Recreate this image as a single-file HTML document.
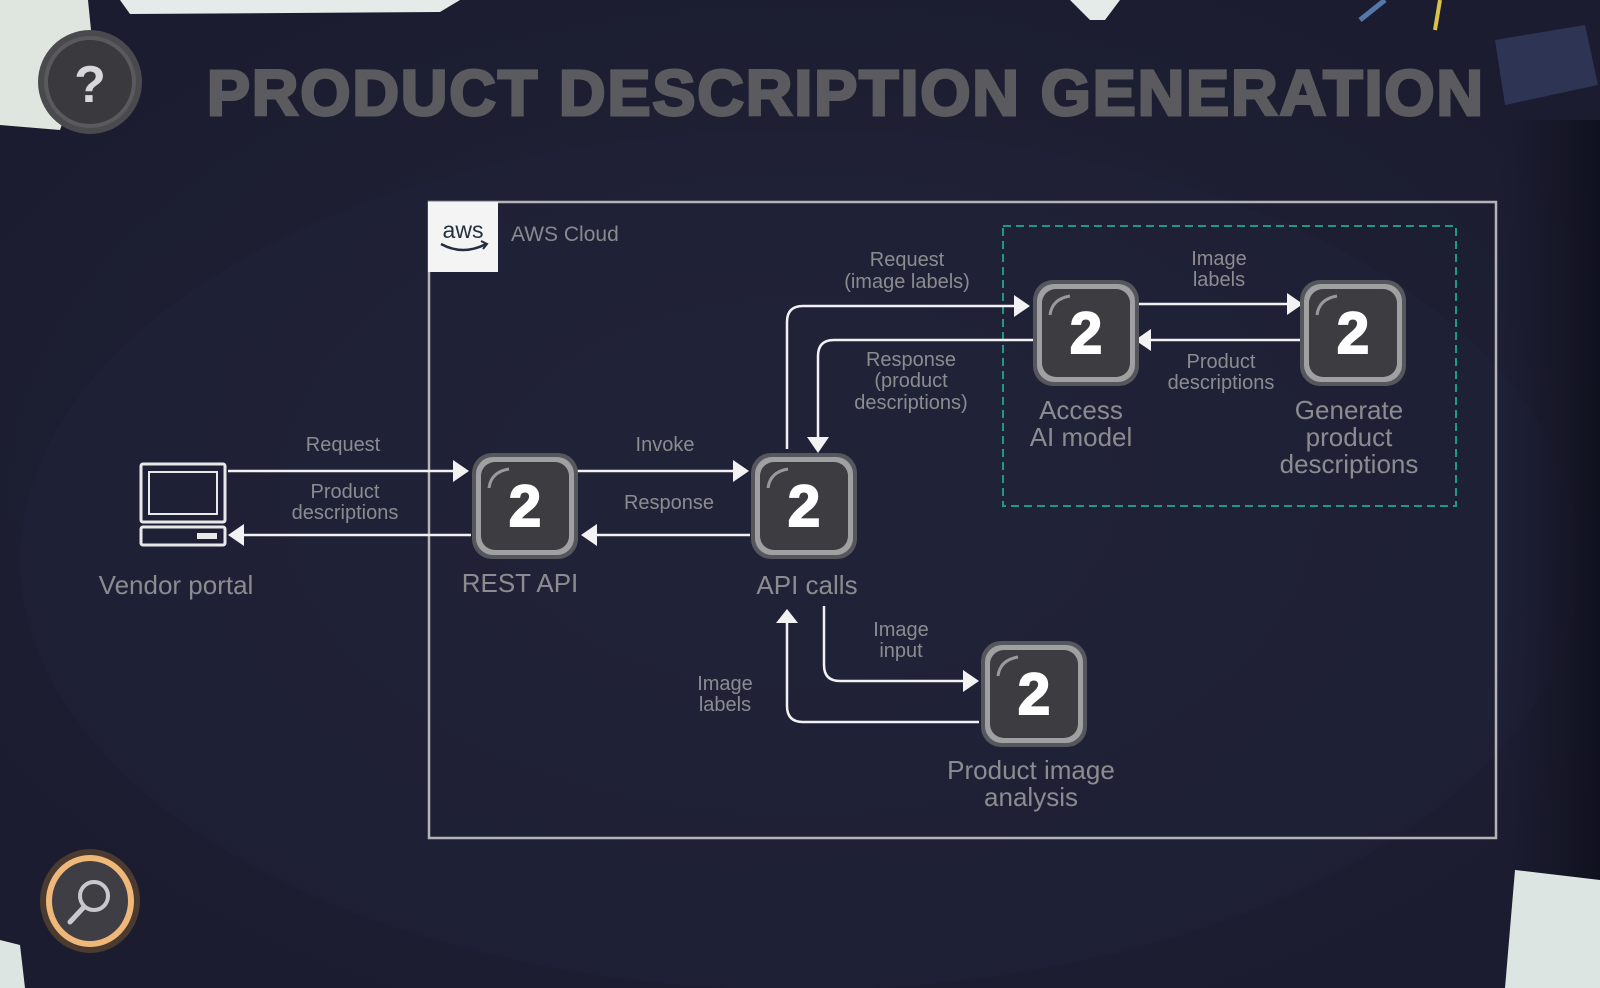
<!DOCTYPE html>
<html><head><meta charset="utf-8"><style>
html,body{margin:0;padding:0;background:#1d1f33;overflow:hidden}
svg{display:block}
text{font-family:"Liberation Sans",sans-serif}
</style></head><body>
<svg width="1600" height="988" viewBox="0 0 1600 988" xmlns="http://www.w3.org/2000/svg">
<defs>
<radialGradient id="bg" cx="0.5" cy="0.5" r="0.6">
<stop offset="0" stop-color="#222438"/><stop offset="1" stop-color="#1b1c30"/>
</radialGradient>
<linearGradient id="rd" x1="0" x2="1" y1="0" y2="0">
<stop offset="0" stop-color="#151626" stop-opacity="0"/><stop offset="1" stop-color="#10111e" stop-opacity="1"/>
</linearGradient>
<g id="node">
<rect x="-53" y="-53" width="106" height="106" rx="20" fill="#55575c"/>
<rect x="-49" y="-49" width="98" height="98" rx="17" fill="#a0a0a3"/>
<rect x="-44" y="-44" width="88" height="88" rx="14" fill="#3d3d41"/>
<path d="M-36,-18 Q-34,-34 -16,-37" stroke="#9a9a9e" stroke-width="3" fill="none"/>
<text x="0" y="20" text-anchor="middle" font-size="58" font-weight="bold" fill="#fff" stroke="#fff" stroke-width="2">2</text>
</g>
</defs>
<rect width="1600" height="988" fill="url(#bg)"/>
<ellipse cx="800" cy="560" rx="780" ry="430" fill="#20223a" opacity="0.5"/>
<rect x="1500" y="120" width="100" height="760" fill="url(#rd)"/>
<!-- corner papers -->
<path d="M0,0 L88,0 L92,40 L60,130 L0,125 Z" fill="#dfe6df"/>
<path d="M120,0 L460,0 L440,12 L130,14 Z" fill="#e4ebe8"/>
<path d="M1070,0 L1120,0 L1105,20 L1090,20 Z" fill="#e4ebe8"/>
<path d="M1360,20 L1385,0" stroke="#5577aa" stroke-width="5"/>
<path d="M1435,30 L1440,0" stroke="#d8c24a" stroke-width="4"/>
<path d="M1495,40 L1585,25 L1598,85 L1505,105 Z" fill="#2e3454"/>
<path d="M1515,870 L1600,880 L1600,988 L1505,988 Z" fill="#dde5e2"/>
<path d="M0,940 L20,945 L25,988 L0,988 Z" fill="#dde5e2"/>
<!-- help button -->
<circle cx="90" cy="82" r="52" fill="#4a4a4e"/>
<circle cx="90" cy="82" r="44" fill="#3a3a3e" stroke="#5a5a5e" stroke-width="4"/>
<text x="90" y="102" text-anchor="middle" font-size="52" font-weight="bold" fill="#d8d8dc">?</text>
<!-- magnifier -->
<ellipse cx="90" cy="901" rx="50" ry="52" fill="#4a3a30"/>
<ellipse cx="90" cy="901" rx="44" ry="46" fill="#f0b878"/>
<ellipse cx="90" cy="901" rx="38" ry="40" fill="#3e3e44"/>
<circle cx="94" cy="896" r="14" fill="none" stroke="#c8c8cc" stroke-width="4"/>
<path d="M84,907 L70,922" stroke="#c8c8cc" stroke-width="5" stroke-linecap="round"/>
<!-- title -->
<text x="207" y="115" font-size="64" font-weight="bold" fill="#5b5b5f" stroke="#5b5b5f" stroke-width="3" stroke-linejoin="miter" textLength="1278" lengthAdjust="spacingAndGlyphs" letter-spacing="2">PRODUCT DESCRIPTION GENERATION</text>
<!-- AWS box -->
<rect x="429" y="202" width="1067" height="636" fill="none" stroke="#b4b4b8" stroke-width="2.5"/>
<rect x="428" y="202" width="70" height="70" fill="#f4f4f4"/>
<text x="463" y="238" text-anchor="middle" font-size="23" fill="#232f3e">aws</text>
<path d="M441,244 Q463,256 486,244" stroke="#232f3e" stroke-width="2.5" fill="none"/>
<path d="M481,241 L487,244 L483,249" stroke="#232f3e" stroke-width="2" fill="none"/>
<text x="511" y="241" font-size="21" fill="#8a8a8e">AWS Cloud</text>
<!-- dashed -->
<rect x="1003" y="226" width="453" height="280" fill="none" stroke="#1e9a80" stroke-width="2" stroke-dasharray="8,5"/>
<!-- connectors -->
<g stroke="#f2f2f2" stroke-width="2.5" fill="none">
<path d="M228,471 L456,471"/>
<path d="M471,535 L240,535"/>
<path d="M577,471 L736,471"/>
<path d="M750,535 L594,535"/>
<path d="M787,449 L787,322 Q787,306 803,306 L1017,306"/>
<path d="M1033,340 L834,340 Q818,340 818,356 L818,440"/>
<path d="M1135,304 L1290,304"/>
<path d="M1303,340 L1148,340"/>
<path d="M824,606 L824,665 Q824,681 840,681 L966,681"/>
<path d="M979,722 L803,722 Q787,722 787,706 L787,622"/>
</g>
<g fill="#f2f2f2">
<path d="M469,471 L453,460 L453,482 Z"/>
<path d="M228,535 L244,524 L244,546 Z"/>
<path d="M749,471 L733,460 L733,482 Z"/>
<path d="M581,535 L597,524 L597,546 Z"/>
<path d="M1030,306 L1014,295 L1014,317 Z"/>
<path d="M818,453 L807,437 L829,437 Z"/>
<path d="M1303,304 L1287,293 L1287,315 Z"/>
<path d="M1135,340 L1151,329 L1151,351 Z"/>
<path d="M979,681 L963,670 L963,692 Z"/>
<path d="M787,609 L776,623 L798,623 Z"/>
</g>
<!-- nodes -->
<use href="#node" x="525" y="506"/>
<use href="#node" x="804" y="506"/>
<use href="#node" x="1086" y="333"/>
<use href="#node" x="1353" y="333"/>
<use href="#node" x="1034" y="694"/>
<!-- computer -->
<g fill="none" stroke="#e8e8e8" stroke-width="3">
<rect x="141" y="464" width="84" height="58" rx="2"/>
<rect x="149" y="472" width="68" height="42" stroke-width="2"/>
<rect x="141" y="527" width="84" height="18" rx="2"/>
</g>
<rect x="197" y="533" width="20" height="6" fill="#e8e8e8"/>
<!-- labels -->
<g fill="#8c8c90" text-anchor="middle" font-size="20">
<text x="343" y="451">Request</text>
<text x="345" y="498">Product</text>
<text x="345" y="519">descriptions</text>
<text x="665" y="451">Invoke</text>
<text x="669" y="509">Response</text>
<text x="907" y="266">Request</text>
<text x="907" y="288">(image labels)</text>
<text x="911" y="366">Response</text>
<text x="911" y="387">(product</text>
<text x="911" y="409">descriptions)</text>
<text x="1219" y="265">Image</text>
<text x="1219" y="286">labels</text>
<text x="1221" y="368">Product</text>
<text x="1221" y="389">descriptions</text>
<text x="901" y="636">Image</text>
<text x="901" y="657">input</text>
<text x="725" y="690">Image</text>
<text x="725" y="711">labels</text>
</g>
<g fill="#8c8c90" text-anchor="middle" font-size="26">
<text x="176" y="594">Vendor portal</text>
<text x="520" y="592">REST API</text>
<text x="807" y="594">API calls</text>
<text x="1081" y="419">Access</text>
<text x="1081" y="446">AI model</text>
<text x="1349" y="419">Generate</text>
<text x="1349" y="446">product</text>
<text x="1349" y="473">descriptions</text>
<text x="1031" y="779">Product image</text>
<text x="1031" y="806">analysis</text>
</g>
</svg>
</body></html>
